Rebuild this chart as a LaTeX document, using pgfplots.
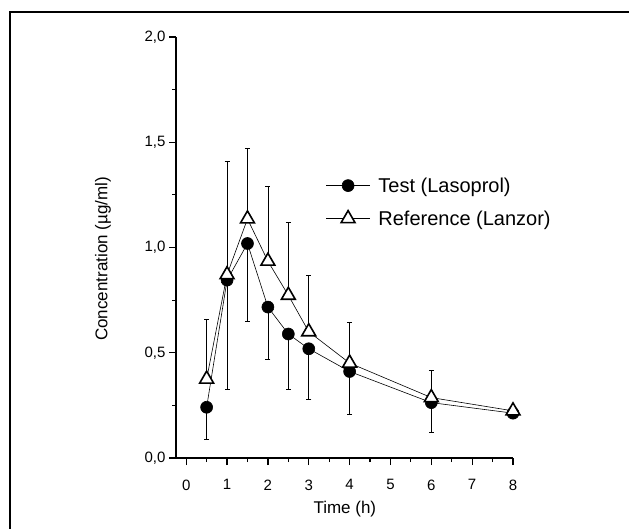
\documentclass[border=0pt]{standalone}
\usepackage{pgfplots}
\pgfplotsset{compat=1.18}
\usepackage{fontspec}
\setmainfont{Liberation Sans}
\begin{document}
\begin{tikzpicture}
  \useasboundingbox (0pt,0pt) rectangle (629pt,-529pt);
  % outer frame (left and top only)
  \draw[line width=2pt] (10pt,-529pt) -- (10pt,-12pt) -- (629pt,-12pt);
  \begin{axis}[
    at={(176pt,-458pt)}, anchor=south west,
    scale only axis, width=337pt, height=421pt,
    xmin=-0.25, xmax=8, ymin=0, ymax=2,
    axis x line*=bottom, axis y line*=left,
    axis line style={line width=1.3pt, -},
    xtick={0,1,...,8}, ytick={0,0.5,1,1.5,2},
    minor x tick num=1, minor y tick num=1,
    tick align=outside, major tick length=7pt, minor tick length=4pt,
    every tick/.style={black, line width=1.2pt},
    /pgf/number format/assume math mode=true,
    tick label style={font=\fontsize{15}{18}\selectfont},
    xticklabel style={yshift=-11pt},
    yticklabel style={/pgf/number format/.cd, fixed, fixed zerofill, precision=1, use comma},
    xlabel={Time (h)}, ylabel={Concentration (µg/ml)},
    every axis x label/.style={at={(axis description cs:0.501,-0.121)}, anchor=center,
      font=\fontsize{17}{20}\selectfont},
    every axis y label/.style={at={(axis description cs:-0.217,0.473)}, rotate=90, anchor=center,
      font=\fontsize{17}{20}\selectfont},
    legend style={at={(axis description cs:0.435,0.676)}, anchor=north west,
      draw=none, fill=none, font=\fontsize{20}{23}\selectfont, row sep=13pt},
    legend cell align=left,
    legend image code/.code={\draw[mark repeat=2, mark phase=2, #1] plot coordinates {(0pt,0pt) (22pt,0pt) (44pt,0pt)}; \path (50pt,0pt);},
  ]
    % Test (Lasoprol): mean -= SD
    \addplot[black, line width=0.6pt, mark=*, mark size=6pt,
      mark options={solid, fill=black, line width=0.6pt},
      error bars/.cd, y dir=minus, y explicit,
      error bar style={line width=0.8pt},
      error mark options={rotate=90, mark size=2.5pt, line width=0.8pt}]
      coordinates {
        (0.5,0.241) -= (0,0.151)
        (1,0.845)   -= (0,0.517)
        (1.5,1.019) -= (0,0.370)
        (2,0.717)   -= (0,0.247)
        (2.5,0.589) -= (0,0.261)
        (3,0.519)   -= (0,0.240)
        (4,0.411)   -= (0,0.203)
        (6,0.263)   -= (0,0.139)
        (8,0.213)   -= (0,0)
      };
    \addlegendentry{Test (Lasoprol)}
    % Reference (Lanzor): mean += SD
    \addplot[black, line width=0.6pt, mark=triangle*, mark size=8pt,
      mark options={solid, fill=white, draw=black, line width=1.6pt},
      error bars/.cd, y dir=plus, y explicit,
      error bar style={line width=0.8pt},
      error mark options={rotate=90, mark size=2.5pt, line width=0.8pt}]
      coordinates {
        (0.5,0.375) += (0,0.282)
        (1,0.871)   += (0,0.540)
        (1.5,1.136) += (0,0.335)
        (2,0.935)   += (0,0.354)
        (2.5,0.773) += (0,0.347)
        (3,0.600)   += (0,0.268)
        (4,0.451)   += (0,0.193)
        (6,0.287)   += (0,0.129)
        (8,0.224)   += (0,0)
      };
    \addlegendentry{Reference (Lanzor)}
  \end{axis}
\end{tikzpicture}
\end{document}
